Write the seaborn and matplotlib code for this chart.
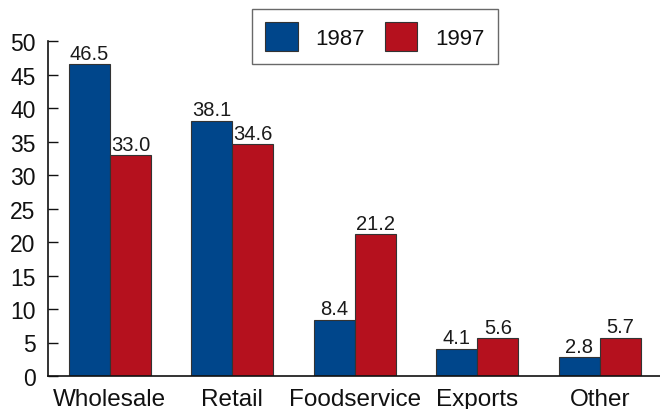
import matplotlib
matplotlib.use("Agg")
import matplotlib.pyplot as plt
from matplotlib.patches import Patch
import seaborn as sns
import pandas as pd

categories = ["Wholesale", "Retail", "Foodservice", "Exports", "Other"]
years = ["1987", "1997"]
values_1987 = [46.5, 38.1, 8.4, 4.1, 2.8]
values_1997 = [33.0, 34.6, 21.2, 5.6, 5.7]
yticks = [0, 5, 10, 15, 20, 25, 30, 35, 40, 45, 50]

colors = {"1987": "#00468b", "1997": "#b5111e"}

df = pd.DataFrame({
    "category": categories * 2,
    "year": [years[0]] * len(categories) + [years[1]] * len(categories),
    "value": values_1987 + values_1997,
})

sns.set_style("white")
plt.rcParams["font.family"] = ["Liberation Sans", "DejaVu Sans"]

fig = plt.figure(figsize=(6.6, 4.1), dpi=100)
ax = fig.add_axes([48 / 660, 1 - 377 / 410, 1 - 48 / 660, (377 - 42) / 410])

sns.barplot(data=df, x="category", y="value", hue="year", order=categories,
            hue_order=years, palette=colors, saturation=1, width=0.67, gap=0,
            edgecolor="#333333", linewidth=0.8, legend=False, ax=ax)

for cont in ax.containers:
    ax.bar_label(cont, fmt="%.1f", padding=1, fontsize=14.5, color="#1a1a1a")

ax.set_ylim(0, 50)
ax.set_xlim(-0.505, 4.49)
ax.set_yticks(yticks)
ax.set_xlabel("")
ax.set_ylabel("")
for side in ["top", "right"]:
    ax.spines[side].set_visible(False)
for side in ["left", "bottom"]:
    ax.spines[side].set_color("#111111")
    ax.spines[side].set_linewidth(1.2)

ax.tick_params(axis="y", direction="in", length=7, width=1, color="#111111",
               labelsize=16.5, labelcolor="#111111", pad=9, left=True)
ax.tick_params(axis="x", length=0, labelsize=17.5, labelcolor="#111111", pad=9)

handles = [Patch(facecolor=colors[y], edgecolor="#333333", linewidth=0.8, label=y) for y in years]
leg = fig.legend(handles=handles, loc="upper left", ncol=2,
                 bbox_to_anchor=(252 / 660, 1 - 10 / 410), bbox_transform=fig.transFigure,
                 frameon=True, fancybox=False, fontsize=16, borderaxespad=0,
                 handlelength=1.45, handleheight=1.6, handletextpad=0.8,
                 columnspacing=0.9, borderpad=0.6)
for t in leg.get_texts():
    t.set_color("#111111")
leg.get_frame().set_edgecolor("#444444")
leg.get_frame().set_linewidth(1.0)

fig.savefig("out.png", dpi=100)
